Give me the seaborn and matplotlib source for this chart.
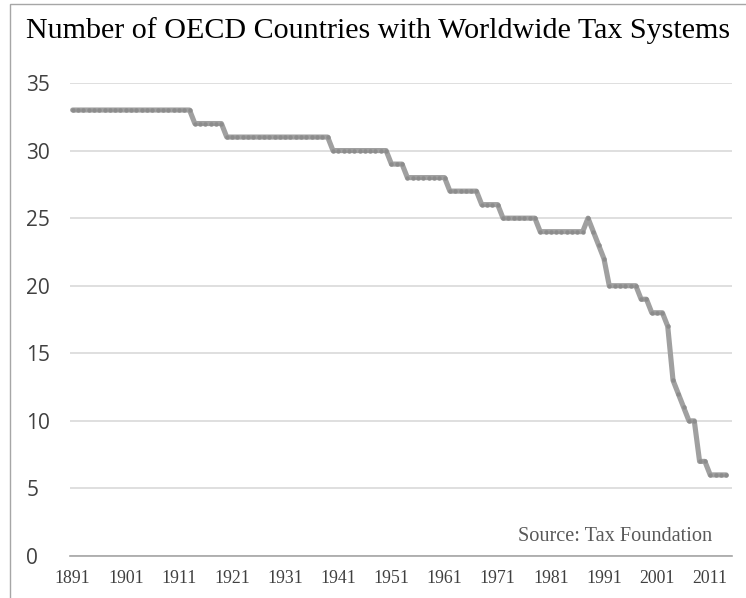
import numpy as np
import pandas as pd
import matplotlib
matplotlib.use('Agg')
import matplotlib.pyplot as plt
import seaborn as sns
from matplotlib.patches import Rectangle

# dados (um valor por ano, 1891-2014)
anos = list(range(1891, 2015))
paises = [
    33, 33, 33, 33, 33, 33, 33, 33, 33, 33,   # 1891-1900
    33, 33, 33, 33, 33, 33, 33, 33, 33, 33,   # 1901-1910
    33, 33, 33, 32, 32, 32, 32, 32, 32, 31,   # 1911-1920
    31, 31, 31, 31, 31, 31, 31, 31, 31, 31,   # 1921-1930
    31, 31, 31, 31, 31, 31, 31, 31, 31, 30,   # 1931-1940
    30, 30, 30, 30, 30, 30, 30, 30, 30, 30,   # 1941-1950
    29, 29, 29, 28, 28, 28, 28, 28, 28, 28,   # 1951-1960
    28, 27, 27, 27, 27, 27, 27, 26, 26, 26,   # 1961-1970
    26, 25, 25, 25, 25, 25, 25, 25, 24, 24,   # 1971-1980
    24, 24, 24, 24, 24, 24, 24, 25, 24, 23,   # 1981-1990
    22, 20, 20, 20, 20, 20, 20, 19, 19, 18,   # 1991-2000
    18, 18, 17, 13, 12, 11, 10, 10, 7, 7,     # 2001-2010
    6, 6, 6, 6,                               # 2011-2014
]
rotulos_x = [1891, 1901, 1911, 1921, 1931, 1941, 1951, 1961, 1971, 1981, 1991, 2001, 2011]
rotulos_y = [0, 5, 10, 15, 20, 25, 30, 35]

titulo = 'Number of OECD Countries with Worldwide Tax Systems'
fonte = 'Source: Tax Foundation'

df = pd.DataFrame({'Ano': anos, 'Paises': paises})

sns.set_style('white')
plt.rcParams['font.family'] = ['DejaVu Sans']

W, H = 746, 598
fig = plt.figure(figsize=(W / 100, H / 100), dpi=100)
ax = fig.add_axes([70 / W, 1 - 556 / H, (732 - 70) / W, (556 - 83) / H])

sns.lineplot(data=df, x='Ano', y='Paises', ax=ax, color='#a0a0a0', linewidth=3.7,
             marker='o', markersize=3.2, markerfacecolor='#8c8c8c', markeredgewidth=0,
             solid_capstyle='round', solid_joinstyle='round', zorder=3)

ax.set_xlim(1890.5, 2015.1)
ax.set_ylim(0, 35)
ax.set_xticks(rotulos_x)
ax.set_xticklabels([str(a) for a in rotulos_x], family='Liberation Serif', fontsize=12.8,
                   color='#404040')
ax.set_yticks(rotulos_y)
ax.set_yticklabels([str(v) for v in rotulos_y], family='Open Sans', fontsize=15,
                   color='#404040')
for lab in ax.get_yticklabels():
    lab.set_ha('left')
ax.tick_params(axis='y', length=0, pad=31.5)
ax.tick_params(axis='x', direction='inout', length=5.5, width=1, color='#a6a6a6', pad=7.5)

ax.set_xlabel('')
ax.set_ylabel('')
ax.yaxis.grid(True, color='#d9d9d9', linewidth=1.2)
ax.xaxis.grid(False)
for lado in ['top', 'right', 'left']:
    ax.spines[lado].set_visible(False)
ax.spines['bottom'].set_color('#a6a6a6')
ax.spines['bottom'].set_linewidth(1.2)
ax.spines['bottom'].set_zorder(4)

fig.text(26 / W, 1 - 38 / H, titulo, family='Liberation Serif', fontsize=21.6,
         color='black', ha='left', va='baseline')
fig.text(712 / W, 1 - 541 / H, fonte, family='Liberation Serif', fontsize=14.6,
         color='#595959', ha='right', va='baseline')

fig.patches.append(Rectangle((10 / W, -0.1), 1.2, 1 - 4.5 / H + 0.1, transform=fig.transFigure,
                             fill=False, edgecolor='#a6a6a6', linewidth=1))

fig.savefig('out.png', dpi=100)
